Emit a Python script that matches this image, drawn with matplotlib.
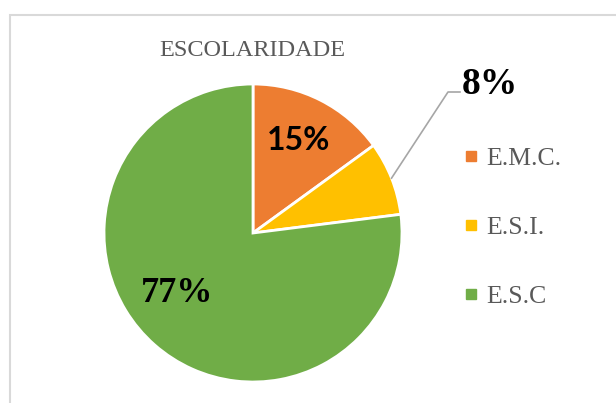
import matplotlib.pyplot as plt
from matplotlib.lines import Line2D
from matplotlib.patches import Rectangle
import numpy as np

categories = ["E.M.C.", "E.S.I.", "E.S.C"]
values = [15, 8, 77]
colors = ["#ED7D31", "#FFC000", "#70AD47"]
title = "ESCOLARIDADE"

W, H = 616, 403
fig = plt.figure(figsize=(W / 100, H / 100), dpi=100)
ax = fig.add_axes([0, 0, 1, 1])

# chart frame (only left and top edges visible in the crop)
fig.patches.append(Rectangle((10 / W, -0.1), 1.2, (H - 15) / H + 0.1,
                             transform=fig.transFigure, fill=False,
                             edgecolor="#D9D9D9", linewidth=1.5))

cx, cy, R = 253, H - 233, 149
wedges, _ = ax.pie(values, colors=colors, startangle=90, counterclock=False,
                   center=(cx, cy), radius=R, frame=True,
                   wedgeprops=dict(edgecolor="white", linewidth=2))
ax.set_xlim(0, W)
ax.set_ylim(0, H)
ax.set_aspect("equal")
ax.axis("off")

ax.text(252, H - 51, title, ha="center", va="center", fontsize=17.5,
        family="Liberation Serif", color="#595959")

# data labels
ax.text(299, H - 141, f"{values[0]}%", ha="center", va="center", fontsize=23,
        family="Lato", fontweight="bold", color="black")
ax.text(177, H - 294, f"{values[2]}%", ha="center", va="center", fontsize=26,
        family="Liberation Serif", fontweight="bold", color="black")

# 8% label with leader line from wedge edge
w = wedges[1]
mid = np.deg2rad((w.theta1 + w.theta2) / 2)
x0, y0 = cx + R * np.cos(mid), cy + R * np.sin(mid)
ax.plot([x0, 448, 460], [y0, H - 92, H - 92], color="#A6A6A6", linewidth=1.2)
ax.text(490, H - 85, f"{values[1]}%", ha="center", va="center", fontsize=27,
        family="Liberation Serif", fontweight="bold", color="black")

handles = [Line2D([], [], marker="s", linestyle="none", markersize=7,
                  markerfacecolor=c, markeredgecolor=c) for c in colors]
fig.legend(handles, categories, loc="upper left", bbox_to_anchor=(440 / W, 1 - 124 / H),
           frameon=False, handlelength=0.6, handletextpad=0.3, labelspacing=1.78,
           prop={"family": "Liberation Serif", "size": 18.5}, labelcolor="#595959")

fig.savefig("out.png", dpi=100)
